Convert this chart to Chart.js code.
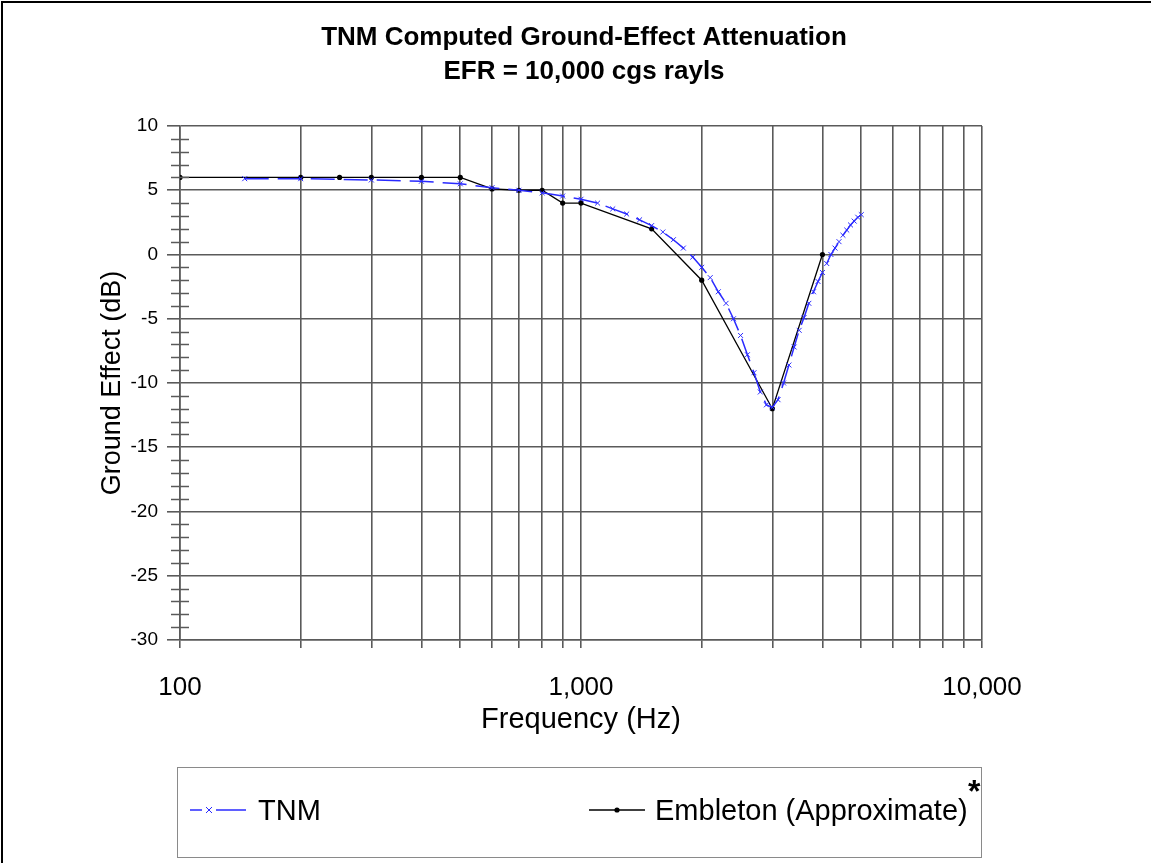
<!DOCTYPE html>
<html>
<head>
<meta charset="utf-8">
<script src="https://cdn.jsdelivr.net/npm/chart.js@4/dist/chart.umd.min.js"></script>
<style>
  html, body { margin: 0; padding: 0; background: #ffffff; }
  canvas { display: block; }
</style>
</head>
<body>
<canvas id="c" width="1151" height="863"></canvas>
<script>
// ---- data ----
const titleLines = ['TNM Computed Ground-Effect Attenuation', 'EFR = 10,000 cgs rayls'];
const xTitle = 'Frequency (Hz)';
const yTitle = 'Ground Effect (dB)';
const seriesNames = ['TNM', 'Embleton (Approximate)'];

const tnmFreq = [145, 200, 300, 400, 500, 600, 700, 800, 900, 1000,
  1100, 1200, 1300, 1400, 1500, 1600, 1700, 1800, 1900, 2000,
  2100, 2200, 2300, 2400, 2500, 2600, 2700, 2800, 2900, 3000,
  3100, 3200, 3300, 3400, 3500, 3600, 3700, 3800, 3900, 4000,
  4100, 4200, 4300, 4400, 4500, 4600, 4700, 4800, 4900, 5000];
const tnmValues = [5.9, 5.9, 5.8, 5.7, 5.5, 5.2, 5.0, 4.8, 4.55, 4.3,
  4.0, 3.55, 3.15, 2.7, 2.25, 1.75, 1.15, 0.5, -0.2, -1.0,
  -1.8, -2.9, -3.8, -5.0, -6.3, -7.8, -9.2, -10.7, -11.7, -11.9,
  -11.3, -10.0, -8.6, -7.2, -5.9, -4.9, -3.8, -2.9, -2.1, -1.4,
  -0.7, 0.0, 0.5, 1.0, 1.5, 1.9, 2.3, 2.6, 2.9, 3.1];

const embFreq = [100, 200, 250, 300, 400, 500, 600, 700, 800, 900, 1000, 1500, 2000, 3000, 4000];
const embValues = [6, 6, 6, 6, 6, 6, 5.1, 5, 5, 4, 4, 2, -2, -12, 0];

const xTickValues = [100, 200, 300, 400, 500, 600, 700, 800, 900,
  1000, 2000, 3000, 4000, 5000, 6000, 7000, 8000, 9000, 10000];
const xLabelValues = [100, 1000, 10000];
const yTickValues = [-30, -29, -28, -27, -26, -25, -24, -23, -22, -21, -20, -19, -18, -17, -16,
  -15, -14, -13, -12, -11, -10, -9, -8, -7, -6, -5, -4, -3, -2, -1, 0,
  1, 2, 3, 4, 5, 6, 7, 8, 9, 10];
const yLabelValues = [-30, -25, -20, -15, -10, -5, 0, 5, 10];

// ---- chart ----
const FONT = "'Liberation Sans', Arial, sans-serif";
const GRID = '#5a5a5a';
const BLUE = '#2a2aff';

const toPts = (fs, vs) => fs.map((f, i) => ({ x: f, y: vs[i] }));

const decorPlugin = {
  id: 'decor',
  afterDraw(chart) {
    const ctx = chart.ctx;
    const ys = chart.scales.y;
    ctx.save();
    // outer frame (top and left)
    ctx.strokeStyle = '#000';
    ctx.lineWidth = 2;
    ctx.beginPath();
    ctx.moveTo(2, 863); ctx.lineTo(2, 2); ctx.lineTo(1151, 2);
    ctx.stroke();
    // minor y ticks crossing the axis
    ctx.strokeStyle = GRID;
    ctx.lineWidth = 1.5;
    const ax = chart.chartArea.left;
    yTickValues.forEach(v => {
      if (yLabelValues.includes(v)) return;
      const py = Math.round(ys.getPixelForValue(v)) + 0.5;
      ctx.beginPath();
      ctx.moveTo(ax - 9, py); ctx.lineTo(ax + 9, py);
      ctx.stroke();
    });
    // legend box
    ctx.strokeStyle = '#8a8a8a';
    ctx.lineWidth = 1;
    ctx.strokeRect(177.5, 767.5, 804, 90);
    const ly = 810;
    // TNM sample
    ctx.strokeStyle = BLUE;
    ctx.lineWidth = 1.5;
    ctx.beginPath(); ctx.moveTo(190, ly); ctx.lineTo(202, ly); ctx.stroke();
    ctx.beginPath(); ctx.moveTo(216, ly); ctx.lineTo(246, ly); ctx.stroke();
    ctx.lineWidth = 1;
    ctx.beginPath();
    ctx.moveTo(206, ly - 3); ctx.lineTo(212, ly + 3);
    ctx.moveTo(212, ly - 3); ctx.lineTo(206, ly + 3);
    ctx.stroke();
    // Embleton sample
    ctx.strokeStyle = '#000';
    ctx.lineWidth = 1.3;
    ctx.beginPath(); ctx.moveTo(589, ly); ctx.lineTo(645, ly); ctx.stroke();
    ctx.fillStyle = '#000';
    ctx.beginPath(); ctx.arc(617, ly, 2.6, 0, Math.PI * 2); ctx.fill();
    // texts
    ctx.fillStyle = '#000';
    ctx.font = "29px " + FONT;
    ctx.textBaseline = 'alphabetic';
    ctx.textAlign = 'left';
    ctx.fillText(seriesNames[0], 258, 820);
    ctx.fillText(seriesNames[1], 655, 820);
    ctx.font = "bold 32px " + FONT;
    ctx.fillText('*', 968, 802);
    ctx.restore();
  }
};

new Chart(document.getElementById('c'), {
  type: 'line',
  data: {
    datasets: [
      {
        label: seriesNames[0],
        data: toPts(tnmFreq, tnmValues),
        borderColor: BLUE,
        backgroundColor: BLUE,
        borderWidth: 1.5,
        borderDash: [24, 9],
        pointStyle: 'crossRot',
        pointRadius: 3.5,
        pointBorderWidth: 1,
        pointBorderColor: BLUE,
        tension: 0,
        fill: false,
        order: 1
      },
      {
        label: seriesNames[1],
        data: toPts(embFreq, embValues),
        borderColor: '#000',
        backgroundColor: '#000',
        borderWidth: 1.3,
        pointStyle: 'circle',
        pointRadius: 2.6,
        pointBorderWidth: 0,
        tension: 0,
        fill: false,
        order: 2
      }
    ]
  },
  options: {
    responsive: false,
    animation: false,
    layout: { padding: { left: 17, right: 0, top: 0, bottom: 123 } },
    plugins: {
      legend: { display: false },
      tooltip: { enabled: false },
      title: {
        display: true,
        text: titleLines,
        color: '#000',
        font: { family: FONT, size: 26, weight: 'bold', lineHeight: 1.3077 },
        padding: { top: 21, bottom: 37 }
      }
    },
    scales: {
      x: {
        type: 'logarithmic',
        position: 'bottom',
        min: 100,
        max: 10000,
        afterBuildTicks: (s) => { s.ticks = xTickValues.map(v => ({ value: v })); },
        afterFit: (s) => { s.height = 100; },
        ticks: {
          autoSkip: false,
          maxRotation: 0,
          color: '#000',
          padding: 24,
          font: { family: FONT, size: 26 },
          callback: (v) => xLabelValues.includes(v) ? v.toLocaleString('en-US') : ''
        },
        grid: { color: GRID, lineWidth: 1.6, tickLength: 8, tickColor: GRID },
        border: { display: true, color: GRID, width: 1.6 },
        title: {
          display: true, text: xTitle, color: '#000',
          font: { family: FONT, size: 29, lineHeight: 1.2 },
          padding: { top: 0, bottom: 3 }
        }
      },
      y: {
        type: 'linear',
        position: 'left',
        min: -30,
        max: 10,
        afterBuildTicks: (s) => { s.ticks = yTickValues.map(v => ({ value: v })); },
        afterFit: (s) => { s.width = 163; },
        ticks: {
          autoSkip: false,
          color: '#000',
          padding: 9,
          font: { family: FONT, size: 19 },
          callback: (v) => yLabelValues.includes(v) ? String(v) : ''
        },
        grid: {
          color: (c) => yLabelValues.includes(c.tick.value) ? GRID : 'rgba(0,0,0,0)',
          tickColor: (c) => yLabelValues.includes(c.tick.value) ? GRID : 'rgba(0,0,0,0)',
          lineWidth: 1.6,
          tickLength: 13
        },
        border: { display: true, color: GRID, width: 1.6 },
        title: {
          display: true, text: yTitle, color: '#000',
          font: { family: FONT, size: 27, lineHeight: 1.2 },
          padding: { top: 79, bottom: 0 }
        }
      },
      yRight: {
        type: 'linear',
        position: 'right',
        display: true,
        min: -30,
        max: 10,
        afterFit: (s) => { s.width = 169; },
        ticks: { display: false },
        grid: { display: false, drawOnChartArea: false },
        border: { display: false }
      }
    }
  },
  plugins: [decorPlugin]
});
</script>
</body>
</html>
